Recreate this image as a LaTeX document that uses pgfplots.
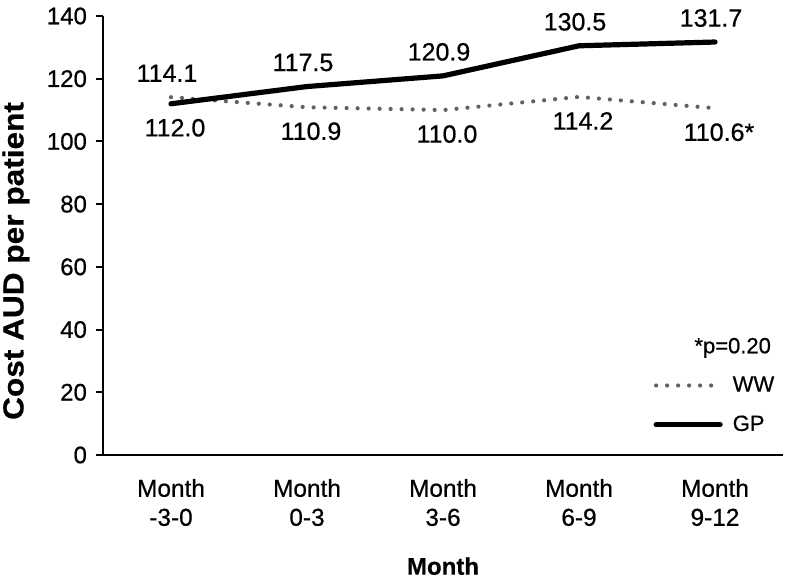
\documentclass[border=0pt]{standalone}
\usepackage{fontspec}
\setmainfont{Liberation Sans}[FakeBold=0.6]
\newfontfamily\titlefont{Liberation Sans Bold}[FakeBold=0.5]
\newfontfamily\widefont{Liberation Sans Bold}[FakeStretch=1.09, FakeBold=0.5]
\usepackage{pgfplots}
\pgfplotsset{compat=1.18}

\begin{document}
\begin{tikzpicture}
% fixed frame: 1 px of the reference = 0.5pt
\path[use as bounding box] (-51.5pt,-64pt) rectangle (341pt,227.5pt);
\begin{axis}[
    at={(0,0)}, anchor=south west,
    scale only axis, width=340pt, height=219.5pt,
    axis x line=bottom, axis y line=left,
    axis line style={line width=1pt, -},
    xmin=-0.5, xmax=4.5, ymin=0, ymax=140,
    ytick={0,20,...,140},
    xtick={0,...,4},
    xticklabels={Month\\-3-0, Month\\0-3, Month\\3-6, Month\\6-9, Month\\9-12},
    xtick style={draw=none},
    minor xtick={-0.5,0.5,...,4.5},
    tick align=outside, major tick length=3.5pt, minor tick length=3.5pt,
    every tick/.style={black, line width=1pt},
    /pgf/number format/assume math mode=true,
    yticklabel style={font=\fontsize{12}{14}\selectfont, xshift=-1pt},
    xticklabel style={font=\fontsize{12.2}{14.5}\selectfont, align=center, yshift=-5pt},
    xlabel={Month},
    xlabel style={font=\titlefont\fontsize{12}{14}\selectfont,
        at={(axis description cs:0.5,-0.253)}, anchor=center},
    ylabel={Cost AUD per patient},
    ylabel style={font=\widefont\fontsize{14.5}{16}\selectfont,
        at={(axis description cs:-0.128,0.442)}, anchor=center},
    legend style={draw=none, fill=none, at={(rel axis cs:0.809,0.189)}, anchor=north west,
        font=\fontsize{11}{13}\selectfont, row sep=6.5pt, column sep=3pt, inner sep=0pt},
    legend cell align=left,
    legend image code/.code={\draw[#1] (0pt,0pt) -- (32pt,0pt);},
    clip=false,
]
\addplot[black!62, line width=2.1pt, line cap=round, dash pattern=on 0pt off 5.5pt]
    coordinates {(0,114.1) (1,110.9) (2,110.0) (3,114.2) (4,110.6)};
\addlegendentry{WW}
\addplot[black, line width=2.6pt, line cap=round]
    coordinates {(0,112.0) (1,117.5) (2,120.9) (3,130.5) (4,131.7)};
\addlegendentry{GP}

% value labels above the points
\addplot[draw=none, forget plot, nodes near coords, point meta=explicit symbolic,
    every node near coord/.append style={anchor=center, yshift=12pt, xshift=-2pt,
        font=\fontsize{12.5}{14}\selectfont}]
    coordinates {(0,114.1)[114.1] (1,117.5)[117.5] (2,120.9)[120.9] (3,130.5)[130.5] (4,131.7)[131.7]};
% value labels below the points
\addplot[draw=none, forget plot, nodes near coords, point meta=explicit symbolic,
    every node near coord/.append style={anchor=center, yshift=-12pt, xshift=2pt,
        font=\fontsize{12.5}{14}\selectfont}]
    coordinates {(0,112.0)[112.0] (1,110.9)[110.9] (2,110.0)[110.0] (3,114.2)[114.2] (4,110.6)[110.6*]};

\node[font=\fontsize{11}{13}\selectfont] at (rel axis cs:0.926,0.244) {*p=0.20};
\end{axis}
\end{tikzpicture}
\end{document}
